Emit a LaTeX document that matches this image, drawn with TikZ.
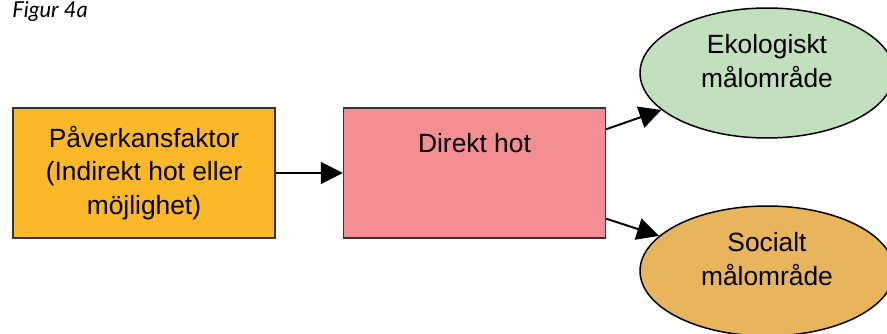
\documentclass[tikz,border=0pt]{standalone}
\usepackage{fontspec}
\setmainfont{Liberation Sans}
\newfontfamily\capfont{Lato}
\usetikzlibrary{shapes.geometric,arrows.meta}
\definecolor{faktorfill}{RGB}{251,185,41}
\definecolor{hotfill}{RGB}{243,143,147}
\definecolor{ekofill}{RGB}{194,224,190}
\definecolor{socfill}{RGB}{232,180,92}
\tikzset{
  box/.style={draw=black!80, line width=0.85pt, minimum width=5.24cm, minimum height=2.6cm, inner sep=0pt},
  goal/.style={ellipse, draw=black, line width=0.85pt, minimum width=5.08cm, minimum height=2.6cm, inner sep=0pt},
  txt/.style={font=\fontsize{15}{19}\selectfont, align=center, inner sep=0pt},
  link/.style={-{Triangle[length=0.44cm,width=0.44cm]}, line width=1.1pt}
}
\begin{document}
\begin{tikzpicture}[x=0.02cm,y=0.02cm]
  \useasboundingbox (0,0) rectangle (887,334);
  \node[anchor=base west, inner sep=0pt, font=\capfont\itshape\fontsize{12.5}{15}\selectfont] (fig) at (12,316) {Figur 4a};

  \node[box, fill=faktorfill, txt] (faktor) at (144,161) {Påverkansfaktor\\(Indirekt hot eller\\möjlighet)};
  \node[box, fill=hotfill, label={[txt, anchor=north, yshift=-0.52cm]north:Direkt hot}] (hot) at (474.5,161) {};

  \node[goal, fill=ekofill, label={[txt, yshift=0.24cm]center:Ekologiskt\\målområde}] (eko) at (767,261) {};
  \node[goal, fill=socfill, label={[txt, yshift=0.24cm]center:Socialt\\målområde}] (soc) at (767,63) {};

  \draw[link] (faktor) -- (hot);
  \draw[link] ([yshift=-0.44cm]hot.north east) -- (eko);
  \draw[link] ([yshift=0.4cm]hot.south east) -- (soc);
\end{tikzpicture}
\end{document}
